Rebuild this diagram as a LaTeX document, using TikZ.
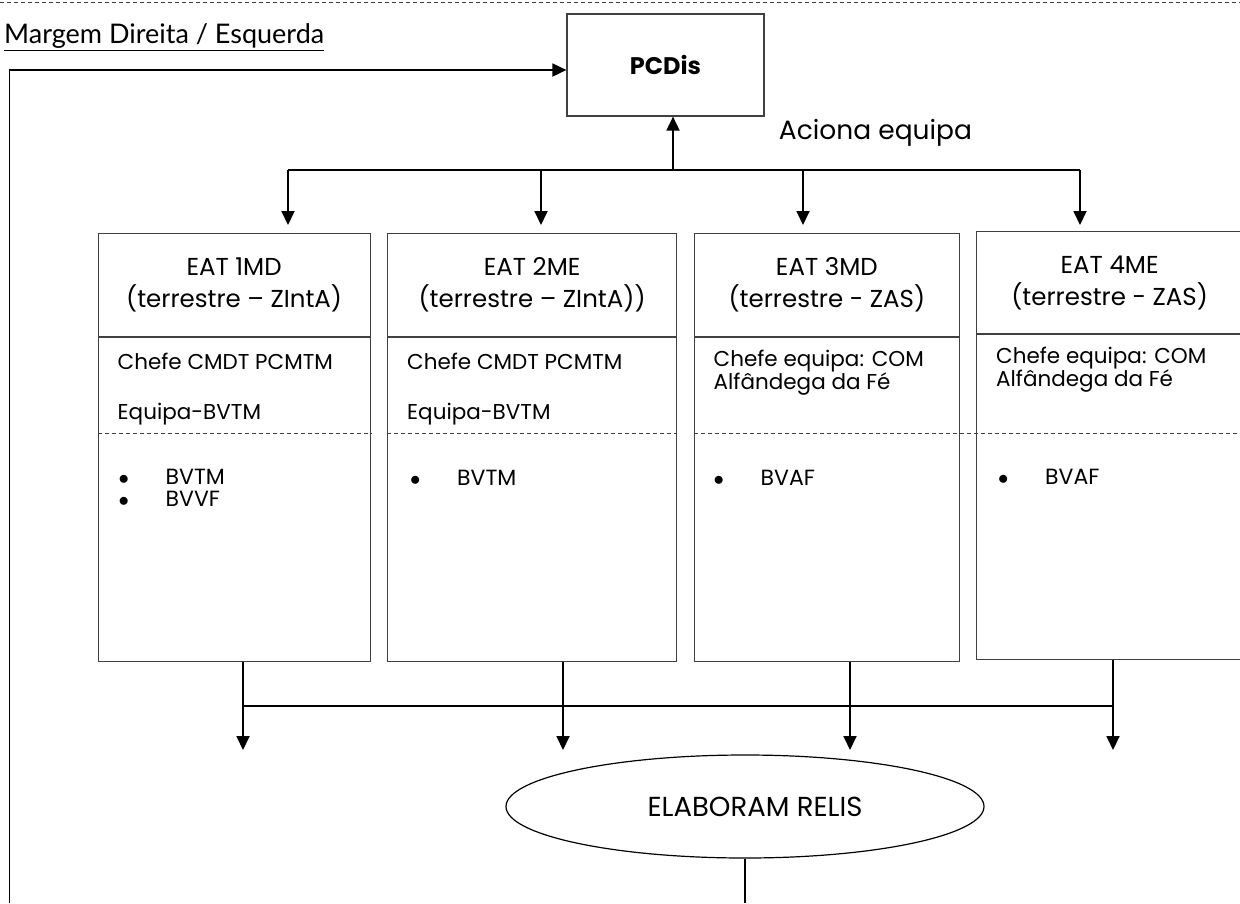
\documentclass[tikz,border=0pt]{standalone}
\usepackage{fontspec}
\setmainfont{Poppins}
\newfontfamily\gillfont{Lato}
\usetikzlibrary{arrows.meta,positioning,shapes.geometric}
\newcommand{\bul}{\makebox[47pt][l]{$\bullet$}}

\tikzset{
  box/.style={draw=black!75, line width=1.2pt, inner sep=0pt, align=center},
  arr/.style={-{Triangle[length=14pt,width=13pt]}, line width=1.8pt},
  link/.style={line width=1.2pt},
  sepline/.style={draw=black!75, line width=0.9pt, dash pattern=on 4pt off 3pt},
  hdtxt/.style={font=\fontsize{24.5}{32}\selectfont},
  bdtxt/.style={font=\fontsize{21.5}{23}\selectfont, anchor=west, inner sep=0pt, align=left},
  bltxt/.style={font=\fontsize{22}{20}\selectfont, anchor=west, inner sep=0pt, text height=15pt, text depth=0pt}
}

\begin{document}
\begin{tikzpicture}[x=1pt,y=-1pt]
  \useasboundingbox (0,0) rectangle (1240,903);
  \draw[sepline, line width=0.7pt] (0,2) -- (1240,2);
  \node[anchor=west, inner sep=0pt, font=\gillfont\fontsize{27}{30}\selectfont] (title) at (4,37) {\underline{Margem Direita / Esquerda}};

  \node[box, minimum width=197pt, minimum height=102pt, font=\bfseries\fontsize{24}{28}\selectfont] (pcdis) at (665.5,65) {PCDis};
  \node[anchor=center, inner sep=0pt, font=\fontsize{26.5}{30}\selectfont] (aciona) at (875.5,133) {Aciona equipa};

  % equipas
  \node[box, hdtxt, anchor=north west, minimum width=272pt, minimum height=103pt] (h1) at (97.5,233) {EAT 1MD\\(terrestre – ZIntA)};
  \node[box, anchor=north, minimum width=272pt, minimum height=324pt] (b1) at (h1.south) {};
  \node[box, hdtxt, anchor=north west, minimum width=289pt, minimum height=103pt] (h2) at (387,233) {EAT 2ME\\(terrestre – ZIntA))};
  \node[box, anchor=north, minimum width=289pt, minimum height=324pt] (b2) at (h2.south) {};
  \node[box, hdtxt, anchor=north west, minimum width=265.5pt, minimum height=103pt] (h3) at (693.5,233) {EAT 3MD\\(terrestre - ZAS)};
  \node[box, anchor=north, minimum width=265.5pt, minimum height=324pt] (b3) at (h3.south) {};
  \node[box, hdtxt, anchor=north west, minimum width=266pt, minimum height=102pt] (h4) at (976,231) {EAT 4ME\\(terrestre - ZAS)};
  \node[box, anchor=north, minimum width=266pt, minimum height=325pt] (b4) at (h4.south) {};

  \node[bdtxt] (c1) at ([shift={(20,24)}]b1.north west) {Chefe CMDT PCMTM};
  \node[bdtxt] (e1) at ([shift={(20,77)}]b1.north west) {Equipa-BVTM};
  \node[bdtxt] (c2) at ([shift={(20,24)}]b2.north west) {Chefe CMDT PCMTM};
  \node[bdtxt] (e2) at ([shift={(20,77)}]b2.north west) {Equipa-BVTM};
  \node[bdtxt] (c3) at ([shift={(20,35)}]b3.north west) {Chefe equipa: COM\\Alfândega da Fé};
  \node[bdtxt] (c4) at ([shift={(20,35)}]b4.north west) {Chefe equipa: COM\\Alfândega da Fé};
  \draw[sepline] ([yshift=-96pt]b1.north west) -- ([yshift=-96pt]b1.north east);
  \draw[sepline] ([yshift=-96pt]b2.north west) -- ([yshift=-96pt]b2.north east);
  \draw[sepline] ([yshift=-96pt]b3.north west) -- ([yshift=-96pt]b3.north west -| b4.north east);
  \node[bltxt] (l1) at ([shift={(21,140)}]b1.north west) {\bul BVTM};
  \node[bltxt] (m1) at ([shift={(21,162)}]b1.north west) {\bul BVVF};
  \node[bltxt] (l2) at ([shift={(23,141)}]b2.north west) {\bul BVTM};
  \node[bltxt] (l3) at ([shift={(20,141)}]b3.north west) {\bul BVAF};
  \node[bltxt] (l4) at ([shift={(22,143)}]b4.north west) {\bul BVAF};

  % acionamento
  \coordinate (up) at (673,170);
  \coordinate (ta) at (288,170);
  \coordinate (tb) at (541,170);
  \coordinate (tc) at (803,170);
  \coordinate (td) at (1080,170);
  \draw[link] (ta) -- (td);
  \draw[arr] (up) -- (up |- pcdis.south);
  \draw[arr] (ta) -- ([yshift=8pt]ta |- h1.north);
  \draw[arr] (tb) -- ([yshift=8pt]tb |- h2.north);
  \draw[arr] (tc) -- ([yshift=8pt]tc |- h3.north);
  \draw[arr] (td) -- ([yshift=6pt]td |- h4.north);

  % margem
  \coordinate (lb) at (9.5,903);
  \draw[arr] (lb) |- ([yshift=-5pt]pcdis.west);

  % relatorios
  \node[draw, ellipse, line width=1.2pt, minimum width=478pt, minimum height=103pt, font=\fontsize{27.5}{30}\selectfont] (relis) at (745,806.5) {\hspace*{20pt}ELABORAM RELIS};
  \coordinate (ba) at (243,706);
  \coordinate (bb) at (563,706);
  \coordinate (bc) at (850,706);
  \coordinate (bd) at (1113,706);
  \draw[link] (ba) -- (bd);
  \draw[link] (b1.south -| ba) -- (ba);
  \draw[link] (b2.south -| bb) -- (bb);
  \draw[link] (b3.south -| bc) -- (bc);
  \draw[link] (b4.south -| bd) -- (bd);
  \draw[arr] (ba) -- ++(0,44);
  \draw[arr] (bb) -- ++(0,44);
  \draw[arr] (bc) -- ++(0,44);
  \draw[arr] (bd) -- ++(0,44);
  \draw[link] (relis.south) -- (relis.south |- lb);
\end{tikzpicture}
\end{document}
